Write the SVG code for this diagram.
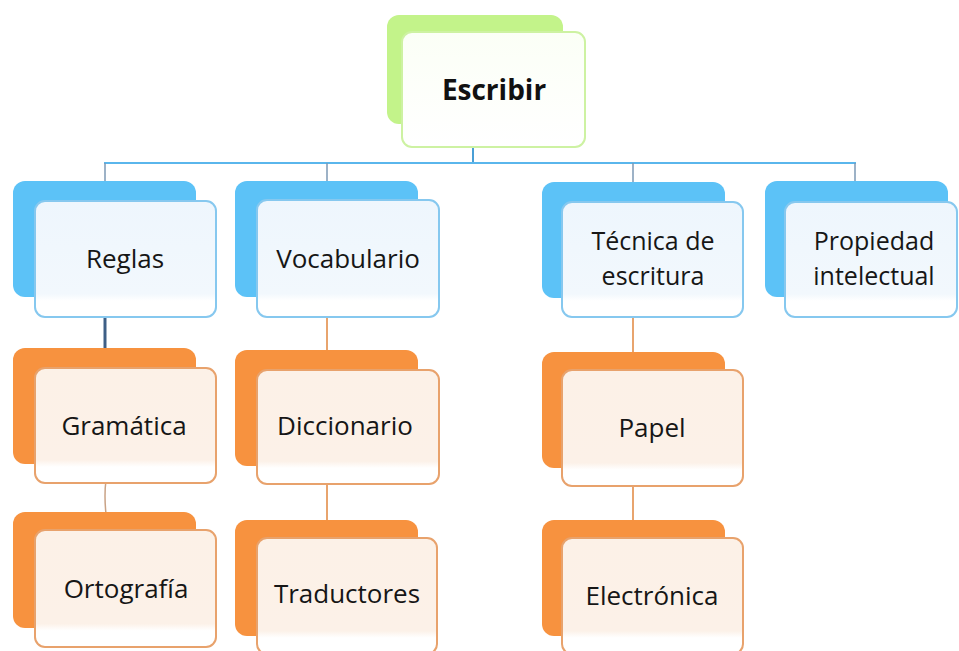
<svg xmlns="http://www.w3.org/2000/svg" width="959" height="651" viewBox="0 0 959 651">
<defs>
<linearGradient id="gb" x1="0" y1="0" x2="0" y2="1">
<stop offset="0" stop-color="#eef6fd"/><stop offset="0.8" stop-color="#f2f8fd"/><stop offset="0.86" stop-color="#ffffff"/><stop offset="1" stop-color="#ffffff"/>
</linearGradient>
<linearGradient id="go" x1="0" y1="0" x2="0" y2="1">
<stop offset="0" stop-color="#fcf1e7"/><stop offset="0.8" stop-color="#fcf1e8"/><stop offset="0.86" stop-color="#ffffff"/><stop offset="1" stop-color="#ffffff"/>
</linearGradient>
<linearGradient id="gg" x1="0" y1="0" x2="0" y2="1">
<stop offset="0" stop-color="#fbfff6"/><stop offset="1" stop-color="#ffffff"/>
</linearGradient>
</defs>
<style>
.bb{fill:#5cc2f7}
.fb{fill:url(#gb);stroke:#86c8ef;stroke-width:2}
.bo{fill:#f7923f}
.fo{fill:url(#go);stroke:#e8a26c;stroke-width:2}
.bg{fill:#c3f38a}
.fg{fill:url(#gg);stroke:#cdf2a2;stroke-width:2}
text{font-family:"Open Sans","Liberation Sans",sans-serif;font-size:26px;fill:#161616;text-anchor:middle}
.t{font-size:28px;font-weight:bold;fill:#111}
.s{font-size:25px}
.cb{stroke:#5ab6ec;stroke-width:2;fill:none}
.cd{stroke:#7d98b5;stroke-width:1.5;fill:none}
.co{stroke:#e8a46e;stroke-width:2;fill:none}
</style>
<rect width="959" height="651" fill="#ffffff"/>
<g id="connectors">
<line class="cb" x1="473" y1="140" x2="473" y2="163" style="stroke:#4a9fd6"/>
<line class="cb" x1="104" y1="163" x2="856" y2="163"/>
<line class="cd" x1="105" y1="163" x2="105" y2="183"/>
<line class="cd" x1="327" y1="163" x2="327" y2="183"/>
<line class="cd" x1="633" y1="163" x2="633" y2="184"/>
<line class="cd" x1="855" y1="163" x2="855" y2="183"/>
<line x1="105" y1="300" x2="105" y2="350" style="stroke:#3e5f86;stroke-width:3"/>
<path d="M106 480 Q104 495 106 514" style="stroke:#c9a285;stroke-width:1.5;fill:none"/>
<line class="co" x1="327" y1="300" x2="327" y2="352"/>
<line class="co" x1="327" y1="470" x2="327" y2="522"/>
<line class="co" x1="633" y1="300" x2="633" y2="354"/>
<line class="co" x1="633" y1="470" x2="633" y2="522"/>
</g>
<g id="node-escribir">
<rect class="bg" x="387" y="15" width="176" height="109" rx="12"/>
<rect class="fg" x="402" y="32" width="183" height="115" rx="10"/>
<text class="t" x="494" y="100">Escribir</text>
</g>
<g id="node-reglas">
<rect class="bb" x="13" y="181" width="183" height="116" rx="12"/>
<rect class="fb" x="35" y="201" width="181" height="116" rx="10"/>
<text x="125" y="268">Reglas</text>
</g>
<g id="node-vocabulario">
<rect class="bb" x="235" y="181" width="183" height="116" rx="12"/>
<rect class="fb" x="257" y="200" width="182" height="117" rx="10"/>
<text x="348" y="268">Vocabulario</text>
</g>
<g id="node-tecnica">
<rect class="bb" x="542" y="182" width="183" height="116" rx="12"/>
<rect class="fb" x="562" y="202" width="181" height="115" rx="10"/>
<text class="s" x="653" y="250">Técnica de</text>
<text class="s" x="653" y="285">escritura</text>
</g>
<g id="node-propiedad">
<rect class="bb" x="765" y="181" width="183" height="116" rx="12"/>
<rect class="fb" x="785" y="202" width="172" height="115" rx="10"/>
<text class="s" x="874" y="250">Propiedad</text>
<text class="s" x="874" y="285">intelectual</text>
</g>
<g id="node-gramatica">
<rect class="bo" x="13" y="348" width="183" height="116" rx="12"/>
<rect class="fo" x="35" y="368" width="181" height="115" rx="10"/>
<text x="124" y="435">Gramática</text>
</g>
<g id="node-ortografia">
<rect class="bo" x="13" y="512" width="183" height="116" rx="12"/>
<rect class="fo" x="35" y="530" width="181" height="117" rx="10"/>
<text x="126" y="598">Ortografía</text>
</g>
<g id="node-diccionario">
<rect class="bo" x="235" y="350" width="183" height="116" rx="12"/>
<rect class="fo" x="257" y="370" width="182" height="114" rx="10"/>
<text x="345" y="435">Diccionario</text>
</g>
<g id="node-traductores">
<rect class="bo" x="235" y="520" width="183" height="116" rx="12"/>
<rect class="fo" x="257" y="538" width="180" height="116" rx="10"/>
<text x="347" y="603">Traductores</text>
</g>
<g id="node-papel">
<rect class="bo" x="542" y="352" width="183" height="116" rx="12"/>
<rect class="fo" x="562" y="370" width="181" height="116" rx="10"/>
<text x="652" y="437">Papel</text>
</g>
<g id="node-electronica">
<rect class="bo" x="542" y="520" width="183" height="116" rx="12"/>
<rect class="fo" x="562" y="538" width="181" height="116" rx="10"/>
<text x="652" y="605">Electrónica</text>
</g>
</svg>
